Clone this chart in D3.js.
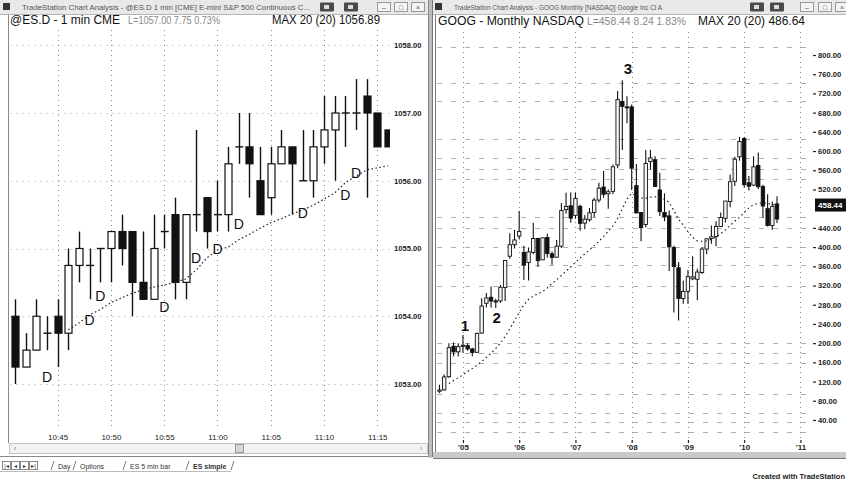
<!DOCTYPE html>
<html><head><meta charset="utf-8">
<script src="https://cdn.jsdelivr.net/npm/d3@7"></script>
<style>
html,body{margin:0;padding:0;background:#fff;}
svg{display:block;font-family:"Liberation Sans",Arial,Helvetica,sans-serif;}
</style></head><body>
<svg id="c" width="846" height="481"></svg>
<script>
// ---------------- DATA: left chart (@ES.D 1 min) ----------------
const esTimeLabels = ["10:45","10:50","10:55","11:00","11:05","11:10","11:15"];
const esTimeIndex  = [4,9,14,19,24,29,34];
const esPriceTicks = [1058,1057,1056,1055,1054,1053];
const esOpen  = [1054.00,1053.25,1053.50,1053.75,1054.00,1053.75,1054.75,1054.75,1055.00,1055.00,1055.25,1055.25,1054.50,1054.25,1055.25,1055.50,1054.50,1055.50,1055.75,1055.50,1055.50,1056.50,1056.50,1056.00,1055.75,1056.25,1056.50,1056.00,1056.00,1056.50,1056.75,1057.00,1057.00,1057.25,1057.00,1056.75];
const esHigh  = [1054.25,1053.75,1054.25,1054.00,1054.25,1055.00,1055.25,1055.00,1055.00,1055.25,1055.50,1055.25,1055.25,1055.50,1055.50,1055.75,1055.50,1056.75,1055.75,1056.00,1056.50,1057.00,1057.00,1056.50,1056.50,1056.75,1056.50,1056.75,1056.75,1057.25,1057.25,1057.25,1057.50,1057.50,1057.00,1056.75];
const esLow   = [1053.00,1053.25,1053.50,1053.50,1053.25,1053.50,1054.50,1054.25,1054.50,1054.50,1054.75,1054.00,1054.25,1054.25,1055.00,1054.25,1054.25,1055.25,1055.00,1055.25,1055.25,1056.25,1055.75,1055.50,1055.50,1056.25,1055.50,1056.00,1055.75,1056.25,1056.00,1056.50,1056.75,1055.75,1056.50,1056.50];
const esClose = [1053.25,1053.50,1054.00,1053.75,1053.75,1054.75,1055.00,1054.75,1055.00,1055.25,1055.00,1054.50,1054.25,1055.00,1055.25,1054.50,1055.50,1055.50,1055.25,1055.50,1056.25,1056.50,1056.25,1055.50,1056.25,1056.50,1056.25,1056.00,1056.50,1056.75,1057.00,1057.00,1057.00,1057.00,1056.50,1056.50];
const esMA = [null,null,null,null,null,1053.80,1053.90,1054.02,1054.10,1054.20,1054.27,1054.34,1054.39,1054.43,1054.46,1054.50,1054.55,1054.68,1054.86,1054.98,1055.02,1055.13,1055.21,1055.30,1055.38,1055.44,1055.51,1055.57,1055.64,1055.73,1055.82,1055.97,1056.07,1056.16,1056.19,1056.22];
const esDIndex = [3,7,8,14,17,19,21,27,31,32];
const esDPrice = [1053.10,1053.95,1054.30,1054.14,1054.86,1055.00,1055.36,1055.52,1055.79,1056.11];

// ---------------- DATA: right chart (GOOG monthly, Aug 2004 - Aug 2010) ----------------
const googYearLabels = ["'05","'06","'07","'08","'09","'10","'11"];
const googYearIndex  = [5,17,29,41,53,65,77];
const googPriceTicks = [800,760,720,680,640,600,560,520,440,400,360,320,280,240,200,160,120,80,40];
const googGridLevels = [816,742,704,625,585,563,542,463,440,400,363,319,200,180,159,94,55,36,15];
const googOpen  = [100,102.7,130.1,193.6,181.9, 194.1,195,188,181,221,283,295.6,288,288,316,381,405, 423,389,368,389,418,373.5,420,386,379,402,478,486, 466,485,450,457,472,498,525,511,516,571,703,692, 692,528,472,447,578,582,519,472,465,399,357,293, 308,334,333,347,396,418,422,443,460,495,537,588, 626,534,529,570,526,480,445,490];
const googHigh  = [113.5,135,199.9,201.6,199.9, 216.8,199.9,190.6,222.1,293.7,304.2,317.8,292.6,320.9,372.3,428.8,435.8, 475.1,403,399,450.7,419.5,419.3,427.9,390.9,414.7,491.7,513,513.8, 513,488.2,467,481.6,503,534,558.6,520,571.8,725,747.2,714, 697,573,472,602,602.5,589,555,512,476,403,369,330, 352.3,381,355,400,418,445,454,472,496,551,588,629.5, 629.5,548,589,597,530,510,495,506];
const googLow   = [96,101.2,128,172.6,172.3, 180.2,184,172.5,179.8,219,274.2,274.4,273.1,283.6,288,375.9,397, 415.6,331.6,330.6,385,358.5,378.6,378.6,363.4,378.3,398,470,450.7, 458.9,434,437,453,462,493,503,480,510,564,602,658, 519,470,412,441,562,525,465,454,350,264,247.3,282, 282,331,289.5,344,385,407,402,442,451,483,527,580, 524,518,527,521,461,443,436,450];
const googClose = [102.37,129.6,190.64,181.98,192.79, 195.62,187.99,180.51,220,277.27,294.15,287.76,286,316.46,372.14,404.91,414.86, 432.66,362.62,390,417.94,371.82,419.33,386.6,378.53,401.9,476.39,484.81,460.48, 501.5,449.45,458.16,471.38,497.91,522.7,510,515.25,567.27,707,693,691.48, 564.3,471.18,440.47,574.29,585.8,526.42,473.75,463.29,400.52,359.36,292.96,307.65, 338.53,337.99,348.06,395.97,417.23,421.59,443.05,461.67,495.85,536.12,583,619.98, 529.94,526.8,567.12,525.7,485.63,444.95,484.85,458.44];
const googMA = [null,null,116,122,128,134,141,147,154,162,170,179,189,200,214,230,247,264,280,291,298,303,307,315,324,332,341,350,359,368,377,386,394,403,412,422,433,444,460,480,500,512,507,502,502,504,505,502,500,493,476,458,446,432,420,413,412,413,416,421,428,436,445,454,462,472,482,488,491,492,491,489,487];
const googLast = 458.44;
const googNoteText  = ["1","2","3"];
const googNoteIndex = [5.4,12.2,40.2];
const googNotePrice = [236,252,770];

// ---------------- DRAW ----------------
const svg = d3.select("#c");
svg.append("rect").attr("width",846).attr("height",481).attr("fill","#fff");
const FONT = "'Liberation Sans',Arial,sans-serif";

function windowChrome(x0, x1, title, btn) {
  const g = svg.append("g");
  g.append("rect").attr("x",x0).attr("y",0).attr("width",x1-x0).attr("height",14).attr("fill","#e9e9e9");
  g.append("line").attr("x1",x0).attr("x2",x1).attr("y1",14.5).attr("y2",14.5).attr("stroke","#b5b5b5");
  g.append("rect").attr("x",x0+3).attr("y",3).attr("width",7).attr("height",7).attr("fill","#333");
  g.append("text").attr("x",x0+22).attr("y",10).attr("font-size",6.6).attr("fill","#555")
    .attr("textLength",title.len).attr("lengthAdjust","spacingAndGlyphs").text(title.t);
  btn.dark.forEach(bx=>{
    g.append("rect").attr("x",bx).attr("y",2.5).attr("width",14).attr("height",9).attr("fill","#4a4a4a").attr("rx",1);
    g.append("rect").attr("x",bx+4).attr("y",5).attr("width",5).attr("height",4).attr("fill","#ddd");
  });
  btn.light.forEach((bx,i)=>{
    g.append("rect").attr("x",bx+0.5).attr("y",2.5).attr("width",13).attr("height",9).attr("fill","#f4f4f4").attr("stroke","#999");
    const sym = ["\u2013","\u25a1","\u00d7"][i];
    g.append("text").attr("x",bx+7).attr("y",10).attr("text-anchor","middle").attr("font-size",7).attr("fill","#555").text(sym);
  });
  return g;
}

// ---------- LEFT WINDOW ----------
windowChrome(0, 429, {t:"TradeStation Chart Analysis - @ES.D 1 min [CME] E-mini S&P 500 Continuous C...", len:288}, {dark:[320,344], light:[377,394,411]});
svg.append("line").attr("x1",8.5).attr("x2",8.5).attr("y1",15).attr("y2",443).attr("stroke","#888");
svg.append("line").attr("x1",428.5).attr("x2",428.5).attr("y1",0).attr("y2",457).attr("stroke","#888");

const hdrL = svg.append("g");
hdrL.append("text").attr("x",10).attr("y",24).attr("font-size",12).attr("fill","#111").attr("textLength",110).attr("lengthAdjust","spacingAndGlyphs").text("@ES.D - 1 min CME");
hdrL.append("text").attr("x",128).attr("y",24).attr("font-size",10.5).attr("fill","#888").attr("textLength",92).attr("lengthAdjust","spacingAndGlyphs").text("L=1057.00 7.75 0.73%");
hdrL.append("text").attr("x",272).attr("y",24).attr("font-size",12).attr("fill","#111").attr("textLength",108).attr("lengthAdjust","spacingAndGlyphs").text("MAX 20 (20) 1056.89");

const xL = d3.scaleLinear().domain([0,35]).range([15,388]);
const yL = d3.scaleLinear().domain([1053,1057]).range([384,113]);

// grid
const gL = svg.append("g");
gL.selectAll("line.h").data(esPriceTicks).join("line")
  .attr("x1",10).attr("x2",390).attr("y1",d=>Math.round(yL(d))+0.5).attr("y2",d=>Math.round(yL(d))+0.5)
  .attr("stroke","#d6d6d6").attr("stroke-dasharray","2,4");
gL.selectAll("line.v").data(esTimeIndex).join("line")
  .attr("x1",d=>Math.round(xL(d))+0.5).attr("x2",d=>Math.round(xL(d))+0.5).attr("y1",30).attr("y2",430)
  .attr("stroke","#888").attr("stroke-dasharray","1,4");

svg.append("clipPath").attr("id","clipL").append("rect").attr("x",9).attr("y",28).attr("width",381).attr("height",404);
const cL = svg.append("g").attr("clip-path","url(#clipL)");
const esIdx = d3.range(esOpen.length);
const bwL = 7;
cL.selectAll("line.wick").data(esIdx).join("line")
  .attr("x1",i=>Math.round(xL(i))+0.5).attr("x2",i=>Math.round(xL(i))+0.5)
  .attr("y1",i=>yL(esHigh[i])).attr("y2",i=>yL(esLow[i]))
  .attr("stroke","#111").attr("stroke-width",1.4);
cL.selectAll("rect.body").data(esIdx.filter(i=>esOpen[i]!==esClose[i])).join("rect")
  .attr("x",i=>Math.round(xL(i))+0.5-bwL/2).attr("width",bwL)
  .attr("y",i=>yL(Math.max(esOpen[i],esClose[i]))).attr("height",i=>Math.abs(yL(esOpen[i])-yL(esClose[i])))
  .attr("fill",i=>esClose[i]>esOpen[i]?"#fff":"#111").attr("stroke","#111").attr("stroke-width",1.2);
cL.selectAll("line.doji").data(esIdx.filter(i=>esOpen[i]===esClose[i])).join("line")
  .attr("x1",i=>xL(i)-bwL/2).attr("x2",i=>xL(i)+bwL/2+1)
  .attr("y1",i=>yL(esOpen[i])).attr("y2",i=>yL(esOpen[i]))
  .attr("stroke","#111").attr("stroke-width",1.4);
cL.append("path").datum(esIdx)
  .attr("d",d3.line().defined(i=>esMA[i]!=null).x(i=>xL(i)).y(i=>yL(esMA[i])))
  .attr("fill","none").attr("stroke","#222").attr("stroke-width",1.2).attr("stroke-dasharray","1.5,2.5");
cL.selectAll("text.d").data(d3.range(esDIndex.length)).join("text")
  .attr("x",k=>xL(esDIndex[k])).attr("y",k=>yL(esDPrice[k])+5)
  .attr("text-anchor","middle").attr("font-size",14).attr("fill","#111").text("D");

// axes
const axL = svg.append("g").attr("transform","translate(392,0)")
  .call(d3.axisRight(yL).tickValues(esPriceTicks).tickFormat(d3.format(".2f")).tickSize(0).tickPadding(2));
axL.select(".domain").remove();
axL.selectAll("text").attr("font-size",7.6).attr("font-weight","bold").attr("fill","#222").attr("font-family",FONT);
const axLb = svg.append("g").attr("transform","translate(0,432)")
  .call(d3.axisBottom(xL).tickValues(esTimeIndex).tickFormat((d,i)=>esTimeLabels[i]).tickSize(0).tickPadding(2));
axLb.select(".domain").remove();
axLb.selectAll("text").attr("font-size",8).attr("fill","#222").attr("font-family",FONT);

// scrollbar
svg.append("rect").attr("x",9.5).attr("y",443.5).attr("width",418).attr("height",10).attr("fill","#f2f2f2").attr("stroke","#c4c4c4");
svg.append("rect").attr("x",235.5).attr("y",444.5).attr("width",8).attr("height",8).attr("fill","#d8d8d8").attr("stroke","#999");
svg.append("text").attr("x",14).attr("y",451).attr("font-size",7).attr("fill","#777").text("\u2039");
svg.append("text").attr("x",420).attr("y",451).attr("font-size",7).attr("fill","#777").text("\u203a");
svg.append("line").attr("x1",0).attr("x2",429).attr("y1",456.5).attr("y2",456.5).attr("stroke","#888");

// tabs
const tabs = svg.append("g").attr("font-size",7).attr("fill","#333");
[2,11,20,29].forEach((bx,i)=>{
  tabs.append("rect").attr("x",bx+0.5).attr("y",461.5).attr("width",8).attr("height",8).attr("fill","#fff").attr("stroke","#888");
  tabs.append("text").attr("x",bx+4.5).attr("y",468).attr("text-anchor","middle").attr("font-size",6).text(["|\u25c2","\u25c2","\u25b8","\u25b8|"][i]);
});
[["Day",58],["Options",80],["ES 5 min bar",130],["ES simple",193]].forEach(([t,x])=>{
  tabs.append("line").attr("x1",x-7).attr("x2",x-4).attr("y1",470).attr("y2",461).attr("stroke","#777");
  tabs.append("text").attr("x",x).attr("y",468.5).attr("font-weight",t==="ES simple"?"bold":"normal").text(t);
});
tabs.append("line").attr("x1",231).attr("x2",234).attr("y1",470).attr("y2",461).attr("stroke","#777");
tabs.append("line").attr("x1",0).attr("x2",231).attr("y1",471.5).attr("y2",471.5).attr("stroke","#bbb");

// ---------- DIVIDER ----------
svg.append("rect").attr("x",429).attr("y",0).attr("width",3).attr("height",458).attr("fill","#bdbdbd");

// ---------- RIGHT WINDOW ----------
windowChrome(432, 846, {t:"TradeStation Chart Analysis - GOOG Monthly [NASDAQ] Google Inc Cl A", len:208}, {dark:[750,770], light:[800,818,835]});
svg.append("line").attr("x1",432.5).attr("x2",432.5).attr("y1",0).attr("y2",457).attr("stroke","#777");
svg.append("line").attr("x1",435.5).attr("x2",435.5).attr("y1",15).attr("y2",452).attr("stroke","#777");

const hdrR = svg.append("g");
hdrR.append("text").attr("x",438).attr("y",25).attr("font-size",12.5).attr("fill","#111").attr("textLength",146).attr("lengthAdjust","spacingAndGlyphs").text("GOOG - Monthly NASDAQ");
hdrR.append("text").attr("x",587).attr("y",25).attr("font-size",10.5).attr("fill","#888").attr("textLength",99).attr("lengthAdjust","spacingAndGlyphs").text("L=458.44 8.24 1.83%");
hdrR.append("text").attr("x",698).attr("y",25).attr("font-size",12).attr("fill","#111").attr("textLength",107).attr("lengthAdjust","spacingAndGlyphs").text("MAX 20 (20) 486.64");

const xR = d3.scaleLinear().domain([0,72]).range([439.5,777]);
const yR = d3.scaleLinear().domain([40,800]).range([420,55]);

const gR = svg.append("g");
gR.selectAll("line.h").data(googGridLevels).join("line")
  .attr("x1",437).attr("x2",812).attr("y1",d=>Math.round(yR(d))+0.5).attr("y2",d=>Math.round(yR(d))+0.5)
  .attr("stroke","#9a9a9a").attr("stroke-dasharray","5,9").attr("stroke-width",0.8);
gR.selectAll("line.v").data(googYearIndex).join("line")
  .attr("x1",d=>Math.round(xR(d))+0.5).attr("x2",d=>Math.round(xR(d))+0.5).attr("y1",32).attr("y2",442)
  .attr("stroke","#888").attr("stroke-dasharray","1,4");

svg.append("clipPath").attr("id","clipR").append("rect").attr("x",437).attr("y",30).attr("width",376).attr("height",412);
const cR = svg.append("g").attr("clip-path","url(#clipR)");
const gIdx = d3.range(googOpen.length);
const bwR = 3.4;
cR.selectAll("line.wick").data(gIdx).join("line")
  .attr("x1",i=>xR(i)).attr("x2",i=>xR(i))
  .attr("y1",i=>yR(googHigh[i])).attr("y2",i=>yR(googLow[i]))
  .attr("stroke","#111").attr("stroke-width",1.1);
cR.selectAll("rect.body").data(gIdx).join("rect")
  .attr("x",i=>xR(i)-bwR/2).attr("width",bwR)
  .attr("y",i=>yR(Math.max(googOpen[i],googClose[i]))).attr("height",i=>Math.max(1,Math.abs(yR(googOpen[i])-yR(googClose[i]))))
  .attr("fill",i=>googClose[i]>=googOpen[i]?"#f4f4f4":"#111").attr("stroke","#111").attr("stroke-width",0.9);
cR.append("path").datum(gIdx)
  .attr("d",d3.line().defined(i=>googMA[i]!=null).x(i=>xR(i)).y(i=>yR(googMA[i])))
  .attr("fill","none").attr("stroke","#222").attr("stroke-width",1.2).attr("stroke-dasharray","1.5,3");
cR.selectAll("text.note").data(d3.range(googNoteText.length)).join("text")
  .attr("x",k=>xR(googNoteIndex[k])).attr("y",k=>yR(googNotePrice[k])+5)
  .attr("text-anchor","middle").attr("font-size",15).attr("font-weight","bold").attr("fill","#111")
  .text(k=>googNoteText[k]);

const axR = svg.append("g").attr("transform","translate(813,0)")
  .call(d3.axisRight(yR).tickValues(googPriceTicks).tickFormat(d3.format(".2f")).tickSize(3).tickPadding(2));
axR.select(".domain").remove();
axR.selectAll("line").attr("stroke","#222").attr("stroke-width",1.2);
axR.selectAll("text").attr("font-size",7.6).attr("font-weight","bold").attr("fill","#222").attr("font-family",FONT);
// last price marker
const yLast = yR(googLast) - 14;
svg.append("rect").attr("x",815).attr("y",yLast-6.5).attr("width",31).attr("height",13).attr("fill","#111");
svg.append("text").attr("x",818).attr("y",yLast+3).attr("font-size",8).attr("font-weight","bold").attr("fill","#fff").text(googLast.toFixed(2));

const axRb = svg.append("g").attr("transform","translate(0,440)")
  .call(d3.axisBottom(xR).tickValues(googYearIndex).tickFormat((d,i)=>googYearLabels[i]).tickSize(3).tickPadding(1));
axRb.select(".domain").remove();
axRb.selectAll("line").attr("stroke","#222").attr("stroke-width",1.2);
axRb.selectAll("text").attr("font-size",8).attr("font-weight","bold").attr("fill","#222").attr("font-family",FONT);

svg.append("rect").attr("x",433).attr("y",452).attr("width",413).attr("height",6).attr("fill","#c9c9c9");
svg.append("line").attr("x1",433).attr("x2",846).attr("y1",458.5).attr("y2",458.5).attr("stroke","#777");

svg.append("text").attr("x",845).attr("y",479).attr("text-anchor","end").attr("font-size",7.5).attr("font-weight","bold").attr("fill","#222").text("Created with TradeStation");
</script>
</body></html>
